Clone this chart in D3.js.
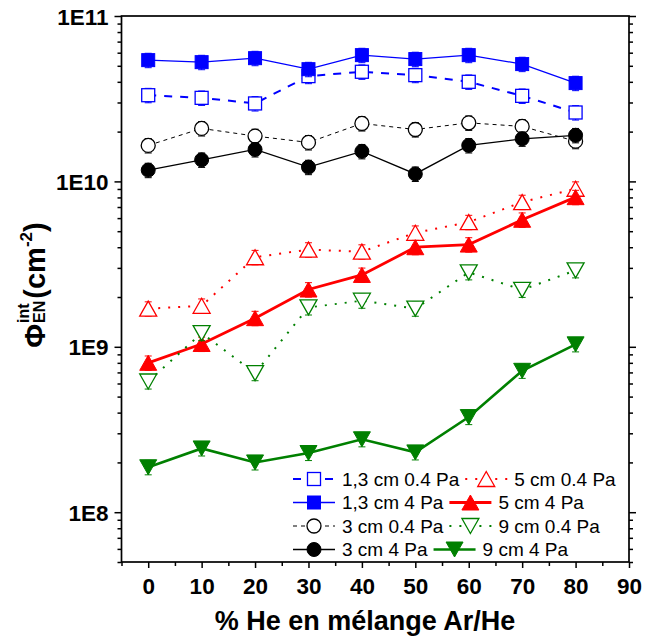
<!DOCTYPE html>
<html><head><meta charset="utf-8">
<script src="https://cdn.jsdelivr.net/npm/d3@7/dist/d3.min.js"></script>
<style>
body{margin:0;background:#fff;}
svg{display:block;font-family:"Liberation Sans",Arial,sans-serif;}
</style></head>
<body>
<svg id="c" width="647" height="638"></svg>
<script>
// ---- data ----
const heliumPct = [0, 10, 20, 30, 40, 50, 60, 70, 80];
const xTickLabels = [0, 10, 20, 30, 40, 50, 60, 70, 80, 90];
const yTickLabels = ["1E8", "1E9", "1E10", "1E11"];
const yTickValues = [1e8, 1e9, 1e10, 1e11];

const names = ["1,3 cm 0.4 Pa", "5 cm 0.4 Pa", "1,3 cm 4 Pa", "5 cm 4 Pa",
               "3 cm 0.4 Pa", "9 cm 0.4 Pa", "3 cm 4 Pa", "9 cm 4 Pa"];
const s13_04 = [3.32e10, 3.20e10, 2.96e10, 4.33e10, 4.60e10, 4.39e10, 4.00e10, 3.29e10, 2.61e10];
const s13_4  = [5.41e10, 5.26e10, 5.56e10, 4.77e10, 5.80e10, 5.49e10, 5.80e10, 5.12e10, 3.93e10];
const s3_04  = [1.65e10, 2.09e10, 1.88e10, 1.72e10, 2.24e10, 2.06e10, 2.26e10, 2.15e10, 1.75e10];
const s3_4   = [1.17e10, 1.35e10, 1.56e10, 1.22e10, 1.52e10, 1.11e10, 1.65e10, 1.81e10, 1.90e10];
const s5_04  = [1.70e9, 1.77e9, 3.48e9, 3.87e9, 3.76e9, 4.89e9, 5.67e9, 7.50e9, 9.03e9];
const s5_4   = [8.0e8, 1.04e9, 1.49e9, 2.22e9, 2.72e9, 4.00e9, 4.15e9, 5.86e9, 8.03e9];
const s9_04  = [6.17e8, 1.21e9, 6.93e8, 1.73e9, 1.90e9, 1.70e9, 2.82e9, 2.21e9, 2.90e9];
const s9_4   = [1.87e8, 2.43e8, 2.00e8, 2.28e8, 2.76e8, 2.30e8, 3.76e8, 7.16e8, 1.035e9];
// relative error-bar half-heights
const relErr = [0.10, 0.10, 0.10, 0.10, 0.10, 0.10, 0.10, 0.10, 0.10];

// ---- styles ----
const series = [
  {name: names[0], v: s13_04, color: "#0000ff", dash: "8,8", w: 2,   sym: "square", fill: false},
  {name: names[1], v: s5_04,  color: "#ff0000", dash: "2,8", w: 2,   sym: "up",     fill: false},
  {name: names[2], v: s13_4,  color: "#0000ff", dash: null,  w: 1.3, sym: "square", fill: true},
  {name: names[3], v: s5_4,   color: "#ff0000", dash: null,  w: 2.8, sym: "up",     fill: true},
  {name: names[4], v: s3_04,  color: "#000000", dash: "4,4", w: 1,   sym: "circle", fill: false},
  {name: names[5], v: s9_04,  color: "#008000", dash: "2,8", w: 2,   sym: "down",   fill: false},
  {name: names[6], v: s3_4,   color: "#000000", dash: null,  w: 1.3, sym: "circle", fill: true},
  {name: names[7], v: s9_4,   color: "#008000", dash: null,  w: 2.6, sym: "down",   fill: true}
];

const svg = d3.select("#c");
const L = 121.5, R = 629, T = 16, B = 562;
const x = d3.scaleLinear().domain([-5, 90]).range([L, R]);
const y = d3.scaleLog().domain([5e7, 1e11]).range([B, T]);

// ---- axes ----
const minorY = [];
for (let e = 7; e <= 10; e++) for (let m = 2; m <= 9; m++) {
  const v = m * Math.pow(10, e);
  if (v >= 5e7 && v <= 1e11) minorY.push(v);
}
const axL = svg.append("g").attr("transform", `translate(${L},0)`);
axL.call(d3.axisLeft(y).tickValues(yTickValues).tickFormat((d, i) => yTickLabels[i]).tickSize(7).tickPadding(6));
axL.append("g").call(d3.axisLeft(y).tickValues(minorY).tickFormat("").tickSize(4));
const axR = svg.append("g").attr("transform", `translate(${R},0)`);
axR.call(d3.axisLeft(y).tickValues(yTickValues).tickFormat("").tickSize(-7));
axR.append("g").call(d3.axisLeft(y).tickValues(minorY).tickFormat("").tickSize(-4));
const axB = svg.append("g").attr("transform", `translate(0,${B})`);
axB.call(d3.axisBottom(x).tickValues(xTickLabels).tickFormat(d => d).tickSize(6).tickPadding(10));
axB.append("g").call(d3.axisBottom(x).tickValues(d3.range(-5, 90, 10)).tickFormat("").tickSize(4));
svg.selectAll(".domain").remove();
svg.selectAll(".tick line").attr("stroke", "#000").attr("stroke-width", 1.5);
svg.selectAll(".tick text").attr("font-size", 22.5).attr("font-weight", "bold").attr("fill", "#000")
   .attr("font-family", '"Liberation Sans",Arial,sans-serif');
axL.selectAll(".tick text").attr("dy", "0.36em");
svg.append("rect").attr("x", L).attr("y", T).attr("width", R - L).attr("height", B - T)
   .attr("fill", "none").attr("stroke", "#000").attr("stroke-width", 1.7);

// ---- marker drawing ----
function drawSym(g, s, cx, cy) {
  const fill = s.fill ? s.color : "#fff";
  const sw = s.fill ? 1 : 1.3;
  if (s.sym === "square") {
    g.append("rect").attr("x", cx - 6.5).attr("y", cy - 6.5).attr("width", 13).attr("height", 13)
     .attr("fill", fill).attr("stroke", s.color).attr("stroke-width", sw);
  } else if (s.sym === "circle") {
    g.append("circle").attr("cx", cx).attr("cy", cy).attr("r", 7)
     .attr("fill", fill).attr("stroke", s.color).attr("stroke-width", sw);
  } else {
    const hw = 8.5, hh = 7.5, d = s.sym === "up" ? 1 : -1;
    const p = `M${cx},${cy - d * hh}L${cx + hw},${cy + d * hh}L${cx - hw},${cy + d * hh}Z`;
    g.append("path").attr("d", p).attr("fill", fill).attr("stroke", s.color).attr("stroke-width", sw);
  }
}

const plot = svg.append("g");
const line = d3.line().x((d, i) => x(heliumPct[i])).y(d => y(d));
// lines first
series.forEach(s => {
  plot.append("path").datum(s.v).attr("d", line).attr("fill", "none")
    .attr("stroke", s.color).attr("stroke-width", s.w)
    .attr("stroke-dasharray", s.dash);
});
// error bars + markers
series.forEach(s => {
  const g = plot.append("g");
  s.v.forEach((v, i) => {
    const cx = x(heliumPct[i]);
    const lo = y(v * (1 - relErr[i])), hi = y(v * (1 + relErr[i]));
    g.append("path").attr("d", `M${cx},${lo}V${hi}M${cx - 3.5},${lo}H${cx + 3.5}M${cx - 3.5},${hi}H${cx + 3.5}`)
      .attr("stroke", s.color).attr("stroke-width", 1).attr("fill", "none");
  });
  s.v.forEach((v, i) => drawSym(g, s, x(heliumPct[i]), y(v)));
});

// ---- legend (inline rows, two entries per row) ----
const leg = svg.append("g").attr("font-size", 19);
const rowY = [479, 502.5, 526, 549.5];
for (let r = 0; r < 4; r++) {
  let cx = 293;
  for (let c = 0; c < 2; c++) {
    const s = series[r * 2 + c];
    leg.append("line").attr("x1", cx).attr("x2", cx + 42).attr("y1", rowY[r]).attr("y2", rowY[r])
      .attr("stroke", s.color).attr("stroke-width", s.w).attr("stroke-dasharray", s.dash);
    drawSym(leg, s, cx + 21, rowY[r]);
    const t = leg.append("text").attr("x", cx + 49).attr("y", rowY[r] + 6.5).attr("fill", "#000").text(s.name);
    cx = cx + 49 + t.node().getComputedTextLength() + 6;
  }
}

// ---- axis titles ----
svg.append("text").attr("x", 365).attr("y", 630).attr("text-anchor", "middle")
  .attr("font-size", 27).attr("font-weight", "bold").text("% He en mélange Ar/He");

const yl = svg.append("g").attr("transform", "translate(45,285) rotate(-90)")
  .attr("font-weight", "bold");
const phi = yl.append("text").attr("font-size", 29).text("Φ");
const wPhi = phi.node().getComputedTextLength();
const sup = yl.append("text").attr("font-size", 16).attr("x", wPhi + 1).attr("y", -16).text("int");
const sub = yl.append("text").attr("font-size", 16).attr("x", wPhi + 1).attr("y", 0).text("EN");
const wSS = Math.max(sup.node().getComputedTextLength(), sub.node().getComputedTextLength());
const cm = yl.append("text").attr("font-size", 29).attr("x", wPhi + wSS + 3);
cm.append("tspan").text("(cm");
cm.append("tspan").attr("font-size", 17).attr("dy", -13).text("-2");
cm.append("tspan").attr("dy", 13).text(")");
const total = wPhi + wSS + 3 + cm.node().getComputedTextLength();
yl.selectAll("text").attr("transform", `translate(${-total / 2},0)`);
</script>
</body></html>
